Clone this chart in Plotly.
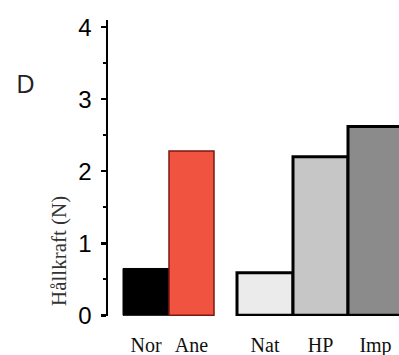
import plotly.graph_objects as go

# ---- data ----
categories = ["Nor", "Ane", "Nat", "HP", "Imp"]
values = [0.65, 2.28, 0.59, 2.20, 2.62]
y_ticks = [0, 1, 2, 3, 4]
y_title = "Hållkraft (N)"
panel_label = "D"

# ---- styles / layout constants ----
fill_colors = ["#000000", "#f05340", "#ebebeb", "#c6c6c6", "#8b8b8b"]
line_colors = ["#000000", "#7a1a10", "#000000", "#000000", "#000000"]
line_widths = [1, 1.5, 3, 3, 3]
bar_widths = [46, 45, 56, 55, 55]
first_left = 15
group_gap_after = {1: 23}

# compute bar centers from widths
centers = []
left = first_left
for i, w in enumerate(bar_widths):
    centers.append(left + w / 2)
    left += w + group_gap_after.get(i, 0)

fig = go.Figure()
for i, cat in enumerate(categories):
    fig.add_trace(go.Bar(
        x=[centers[i]], y=[values[i]], width=[bar_widths[i]],
        marker=dict(color=fill_colors[i],
                    line=dict(color=line_colors[i], width=line_widths[i])),
        showlegend=False, hoverinfo="skip",
    ))

W, H = 399, 355
win_l, win_t, win_b = 108, 20, 316
m_l, m_t, m_b = win_l, win_t, H - win_b
plot_w, plot_h = W - m_l, H - m_t - m_b

fig.update_layout(
    width=W, height=H,
    margin=dict(l=m_l, r=0, t=m_t, b=m_b, autoexpand=False),
    plot_bgcolor="white", paper_bgcolor="white",
    bargap=0,
    xaxis=dict(
        range=[0, 291], showline=False, showgrid=False, zeroline=False,
        automargin=False,
        tickmode="array", tickvals=centers, ticktext=categories,
        ticks="", tickfont=dict(family="Liberation Serif", size=20, color="#111"),
        ticklabelstandoff=15,
    ),
    yaxis=dict(
        range=[-0.01, 4.1], showline=True, linecolor="black", linewidth=2.5,
        showgrid=False, zeroline=False, automargin=False,
        tickmode="array", tickvals=y_ticks,
        ticks="outside", ticklen=5, tickwidth=2.5, tickcolor="black",
        tickfont=dict(family="Liberation Sans", size=24, color="black"),
        ticklabelstandoff=4,
        minor=dict(dtick=0.5, ticks="outside", ticklen=3, tickwidth=2, tickcolor="black", showgrid=False),
    ),
)

def px_to_paper(px, py):
    return (px - win_l) / plot_w, 1 - (py - win_t) / plot_h

tx, ty = px_to_paper(59, 251)
dx, dy = px_to_paper(25, 83)
fig.add_annotation(text=y_title, x=tx, y=ty, xref="paper", yref="paper", showarrow=False,
                   textangle=-90, xanchor="center", yanchor="middle",
                   font=dict(family="Liberation Serif", size=21, color="#333"))
fig.add_annotation(text=panel_label, x=dx, y=dy, xref="paper", yref="paper", showarrow=False,
                   xanchor="center", yanchor="middle",
                   font=dict(family="Open Sans", size=26, color="#222"))

fig.write_html(
    "out.html",
    config={"displayModeBar": False, "staticPlot": True},
    post_script="document.body.style.margin='0';document.body.style.overflow='hidden';",
)
